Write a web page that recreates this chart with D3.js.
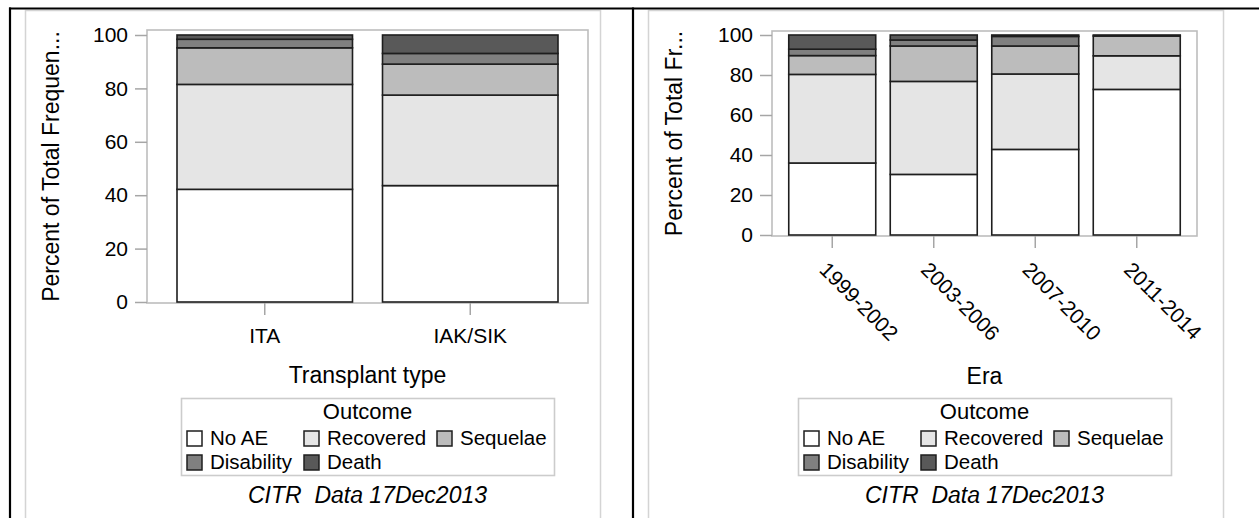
<!DOCTYPE html>
<html>
<head>
<meta charset="utf-8">
<script src="https://cdn.jsdelivr.net/npm/d3@7/dist/d3.min.js"></script>
<style>
  html, body { margin: 0; padding: 0; background: #fff; }
  svg { display: block; font-family: "Liberation Sans", Arial, sans-serif; }
</style>
</head>
<body>
<svg id="chart" width="1259" height="518"></svg>
<script>
// ---------- data ----------
const outcomes = ["No AE", "Recovered", "Sequelae", "Disability", "Death"];
const yTicks = [0, 20, 40, 60, 80, 100];

const transplantTypes = ["ITA", "IAK/SIK"];
const typeNoAE       = [42.2, 43.6];
const typeRecovered  = [39.3, 33.9];
const typeSequelae   = [13.7, 11.6];
const typeDisability = [3.2, 4.0];
const typeDeath      = [1.6, 6.9];

const eras = ["1999-2002", "2003-2006", "2007-2010", "2011-2014"];
const eraNoAE       = [36.0, 30.3, 42.8, 72.8];
const eraRecovered  = [44.3, 46.5, 37.7, 16.8];
const eraSequelae   = [9.4, 17.7, 14.0, 9.9];
const eraDisability = [3.2, 3.0, 4.8, 0.0];
const eraDeath      = [7.1, 2.5, 0.7, 0.5];

const outcomeFills = ["#ffffff", "#e5e5e5", "#bcbcbc", "#808080", "#595959"];

// ---------- drawing ----------
const svg = d3.select("#chart");
const color = d3.scaleOrdinal().domain(outcomes).range(outcomeFills);

function rows(cats, series) {
  return cats.map((c, i) => {
    const r = { cat: c };
    outcomes.forEach((o, k) => { r[o] = series[k][i]; });
    return r;
  });
}

function drawPanel(cfg) {
  const g = svg.append("g");
  // cell frame
  g.append("rect").attr("x", cfg.cellL + 0.5).attr("y", 10.5)
    .attr("width", cfg.cellR - cfg.cellL).attr("height", 520)
    .attr("fill", "none").attr("stroke", "#d4d4d4").attr("stroke-width", 1.5);

  const x = d3.scaleBand().domain(cfg.cats).range([cfg.px0, cfg.px1])
    .paddingInner(cfg.padIn).paddingOuter(cfg.padOut);
  const y = d3.scaleLinear().domain([0, 100]).range([cfg.y0, cfg.y100]);

  // plot frame
  g.append("rect").attr("x", cfg.px0).attr("y", cfg.fTop)
    .attr("width", cfg.px1 - cfg.px0).attr("height", cfg.fBot - cfg.fTop)
    .attr("fill", "none").attr("stroke", "#bdbdbd").attr("stroke-width", 1.6);

  // bars
  const stack = d3.stack().keys(outcomes);
  const layers = stack(rows(cfg.cats, cfg.series));
  g.append("g").selectAll("g").data(layers).join("g")
    .attr("fill", d => color(d.key))
    .selectAll("rect").data(d => d).join("rect")
    .attr("x", d => x(d.data.cat))
    .attr("width", x.bandwidth())
    .attr("y", d => y(d[1]))
    .attr("height", d => y(d[0]) - y(d[1]))
    .attr("stroke", "#1e1e1e").attr("stroke-width", 1.6);

  // y axis
  const ya = g.append("g").attr("transform", `translate(${cfg.px0},0)`)
    .call(d3.axisLeft(y).tickValues(yTicks).tickSize(12).tickPadding(7).tickFormat(d3.format("d")));
  ya.select(".domain").remove();
  ya.selectAll(".tick line").attr("stroke", "#a6a6a6").attr("stroke-width", 1.5);
  ya.selectAll(".tick text").attr("font-size", 21).attr("fill", "#000")
    .attr("font-family", "Liberation Sans, Arial, sans-serif");

  // x axis
  const xa = g.append("g").attr("transform", `translate(0,${cfg.fBot})`)
    .call(d3.axisBottom(x).tickSize(12).tickPadding(12));
  xa.select(".domain").remove();
  xa.selectAll(".tick line").attr("stroke", "#a6a6a6").attr("stroke-width", 1.5);
  const xt = xa.selectAll(".tick text").attr("font-size", 21).attr("fill", "#000")
    .attr("font-family", "Liberation Sans, Arial, sans-serif");
  if (cfg.rotate) {
    xt.attr("y", 0).attr("dy", 0).attr("x", 0)
      .attr("text-anchor", "start")
      .attr("transform", "translate(-14,35) rotate(45)");
  } else {
    xt.attr("dy", 0).attr("y", 40);
  }

  const cx = (cfg.px0 + cfg.px1) / 2;
  // x label
  g.append("text").attr("x", cx).attr("y", cfg.xLabelY).attr("text-anchor", "middle")
    .attr("font-size", 23).attr("fill", "#000").text(cfg.xLabel);
  // y label
  const cy = (cfg.fTop + cfg.fBot) / 2;
  g.append("text").attr("transform", `translate(${cfg.cellL + 34},${cy}) rotate(-90)`)
    .attr("text-anchor", "middle").attr("font-size", 23).attr("fill", "#000").text(cfg.yLabel);

  // legend
  const lw = 373, lx = cx - lw / 2, ly = 398;
  const lg = g.append("g");
  lg.append("rect").attr("x", lx + 0.5).attr("y", ly + 0.5).attr("width", lw).attr("height", 77)
    .attr("fill", "#fff").attr("stroke", "#cccccc").attr("stroke-width", 1.6);
  lg.append("text").attr("x", cx).attr("y", 419).attr("text-anchor", "middle")
    .attr("font-size", 22).attr("fill", "#000").text("Outcome");
  const colX = [6, 123, 256];
  const rowY = [445, 469];
  outcomes.forEach((o, i) => {
    const c = i % 3, r = Math.floor(i / 3);
    const sx = lx + colX[c], by = rowY[r];
    lg.append("rect").attr("x", sx).attr("y", by - 14).attr("width", 15).attr("height", 15)
      .attr("fill", color(o)).attr("stroke", "#1e1e1e").attr("stroke-width", 1.5);
    lg.append("text").attr("x", sx + 23).attr("y", by).attr("font-size", 20.5)
      .attr("fill", "#000").text(o);
  });

  // footnote
  g.append("text").attr("x", cx).attr("y", 503).attr("text-anchor", "middle")
    .attr("font-size", 23).attr("font-style", "italic").attr("fill", "#000")
    .attr("xml:space", "preserve").style("white-space", "pre")
    .text("CITR  Data 17Dec2013");
}

drawPanel({
  cellL: 25, cellR: 600,
  px0: 147, px1: 588, fTop: 30, fBot: 303, y0: 302, y100: 35,
  padIn: 0.146, padOut: 0.146,
  cats: transplantTypes,
  series: [typeNoAE, typeRecovered, typeSequelae, typeDisability, typeDeath],
  rotate: false,
  xLabel: "Transplant type", xLabelY: 383,
  yLabel: "Percent of Total Frequen..."
});

drawPanel({
  cellL: 648, cellR: 1223,
  px0: 772, px1: 1197, fTop: 31, fBot: 236, y0: 235, y100: 35,
  padIn: 0.143, padOut: 0.165,
  cats: eras,
  series: [eraNoAE, eraRecovered, eraSequelae, eraDisability, eraDeath],
  rotate: true,
  xLabel: "Era", xLabelY: 384,
  yLabel: "Percent of Total Fr..."
});

// table borders
svg.append("line").attr("x1", 9).attr("x2", 1259).attr("y1", 8.5).attr("y2", 8.5)
  .attr("stroke", "#000").attr("stroke-width", 2.2);
svg.append("line").attr("x1", 10).attr("x2", 10).attr("y1", 7.5).attr("y2", 518)
  .attr("stroke", "#000").attr("stroke-width", 2.2);
svg.append("line").attr("x1", 633).attr("x2", 633).attr("y1", 7.5).attr("y2", 518)
  .attr("stroke", "#000").attr("stroke-width", 2.2);
</script>
</body>
</html>
